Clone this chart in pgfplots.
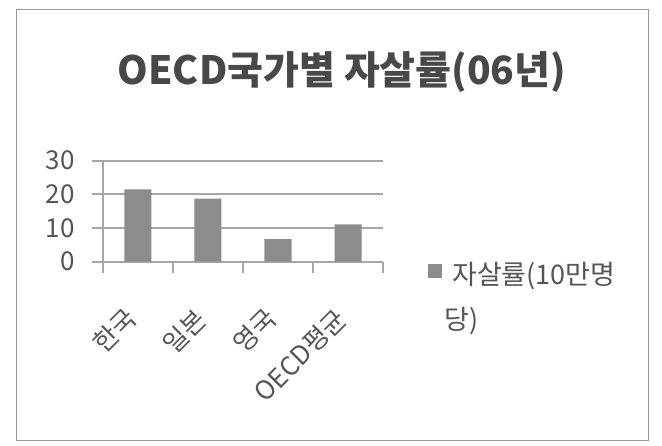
\documentclass[border=0pt]{standalone}
\usepackage{fontspec}
\setmainfont{Noto Sans CJK KR}
\usepackage{pgfplots}
\pgfplotsset{compat=1.18}
\definecolor{barfill}{HTML}{8C8C8C}
\definecolor{gridc}{HTML}{A6A6A6}
\definecolor{txt}{HTML}{555555}
\definecolor{framec}{HTML}{9A9A9A}

\begin{document}
\begin{tikzpicture}[x=1pt,y=1pt]
  \useasboundingbox (0,0) rectangle (662,445);
  % outer frame
  \draw[framec, line width=1pt] (16,5) rectangle (648,435);
  % title
  \node[font=\fontsize{39}{42}\selectfont\bfseries, text=txt!85!black] at (342,373)
    {OECD국가별 자살률(06년)};

  \begin{axis}[
    at={(103pt,183.3pt)}, anchor=south west,
    scale only axis,
    width=280pt, height=101pt,
    xmin=-0.5, xmax=3.5,
    ymin=0, ymax=30,
    axis x line*=bottom, axis y line*=left,
    axis line style={gridc, line width=2pt, -},
    ytick={0,10,20,30},
    ymajorgrids,
    major grid style={gridc, line width=2pt},
    tick style={gridc, line width=2pt},
    tick align=outside,
    major tick length=11pt,
    xtick={-0.5,0.5,1.5,2.5,3.5},
    xticklabels={},
    extra x ticks={0,1,2,3},
    extra x tick labels={한국,일본,영국,OECD평균},
    extra x tick style={major tick length=0pt,
      xticklabel style={font=\fontsize{26}{28}\selectfont, text=txt,
        xshift=-4pt, yshift=-50pt, rotate=45, anchor=east}},
    /pgf/number format/assume math mode=true,
    yticklabel style={font=\fontsize{26}{28}\selectfont, text=txt, xshift=-14pt},
    legend style={draw=none, fill=none, at={(1.161,0.02)}, anchor=north west,
      inner sep=0pt, font=\fontsize{27}{45}\selectfont,
      nodes={align=left, text=txt}},
    legend cell align=left,
  ]
    \addplot[ybar, bar width=27pt, fill=barfill, draw=none,
      legend image code/.code={\fill[barfill] (0pt,18pt) rectangle (14pt,32pt);}]
      coordinates {(0,21.5) (1,18.7) (2,6.7) (3,11.1)};
    \addlegendentry{\hspace{8pt}자살률(10만명\\당)}
  \end{axis}
\end{tikzpicture}
\end{document}
